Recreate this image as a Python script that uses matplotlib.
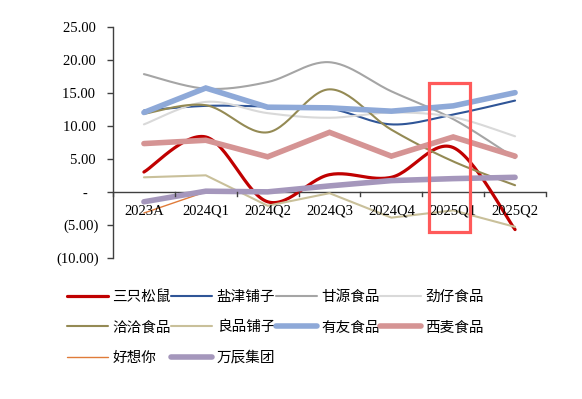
import numpy as np
import matplotlib
matplotlib.use('Agg')
import matplotlib.pyplot as plt
from matplotlib.patches import Rectangle
from matplotlib.ticker import FixedLocator, FixedFormatter

categories = ['2023A', '2024Q1', '2024Q2', '2024Q3', '2024Q4', '2025Q1', '2025Q2']
sanzhi = [3.0, 8.3, -1.5, 2.6, 2.2, 6.7, -5.7]
yanjin = [12.3, 13.0, 12.9, 12.6, 10.2, 11.7, 13.8]
ganyuan = [17.8, 15.6, 16.6, 19.6, 15.2, 11.0, 5.1]
jinzai = [10.2, 13.6, 11.9, 11.2, 12.0, 11.3, 8.4]
qiaqia = [11.8, 13.1, 9.0, 15.5, 9.4, 4.6, 1.0]
liangpin = [2.2, 2.5, -2.1, -0.2, -3.9, -2.8, -5.3]
youyou = [12.0, 15.7, 12.8, 12.7, 12.2, 13.0, 15.0]
ximai = [7.3, 7.8, 5.3, 9.0, 5.4, 8.3, 5.4]
haoxiang = [-3.2, 0.0, 0.0, 0.8, 1.6, 1.9, 2.1]
wanchen = [-1.5, 0.1, 0.0, 0.9, 1.7, 2.0, 2.2]

names = ['三只松鼠', '盐津铺子', '甘源食品', '劲仔食品', '洽洽食品',
         '良品铺子', '有友食品', '西麦食品', '好想你', '万辰集团']
series = [sanzhi, yanjin, ganyuan, jinzai, qiaqia, liangpin, youyou, ximai, haoxiang, wanchen]
colors = ['#C00000', '#2F5597', '#A5A5A5', '#D9D9D9', '#948A54',
          '#C9C09A', '#8EA9D8', '#D59494', '#E07B39', '#A597BC']
widths = [2.3, 1.5, 1.5, 1.5, 1.5, 1.5, 4.0, 4.0, 1.0, 4.0]
smooth = [True, True, True, True, True, False, False, False, False, False]

yticks = [25, 20, 15, 10, 5, 0, -5, -10]
ylabels = ['25.00 ', '20.00 ', '15.00 ', '10.00 ', '5.00 ', '-   ', '(5.00)', '(10.00)']

SERIF = ['Liberation Serif', 'Noto Sans CJK SC']
CJK = ['Noto Sans CJK SC', 'DejaVu Sans']


def smooth_curve(x, y, n=30):
    x = np.asarray(x, float)
    y = np.asarray(y, float)
    P = np.column_stack([x, y])
    Pe = np.vstack([P[0], P, P[-1]])
    out = []
    t = np.linspace(0, 1, n)[:, None]
    for i in range(len(P) - 1):
        p0, p1, p2, p3 = Pe[i], Pe[i + 1], Pe[i + 2], Pe[i + 3]
        b1 = p1 + (p2 - p0) / 6.0
        b2 = p2 - (p3 - p1) / 6.0
        seg = ((1 - t) ** 3) * p1 + 3 * ((1 - t) ** 2) * t * b1 + 3 * (1 - t) * t ** 2 * b2 + t ** 3 * p2
        out.append(seg if i == 0 else seg[1:])
    c = np.vstack(out)
    return c[:, 0], c[:, 1]


fig = plt.figure(figsize=(5.82, 3.99), dpi=100)
ax = fig.add_axes([113 / 582, 1 - 258 / 399, (546 - 113) / 582, (258 - 26.5) / 399])

x = np.arange(len(categories))
handles = []
for name, vals, c, lw, sm in zip(names, series, colors, widths, smooth):
    if sm:
        xs, ys = smooth_curve(x, vals)
    else:
        xs, ys = x, vals
    h, = ax.plot(xs, ys, color=c, lw=lw, label=name, solid_capstyle='round',
                 solid_joinstyle='miter' if lw > 3 else 'round')
    handles.append(h)

ax.set_xlim(-0.5, len(categories) - 0.5)
ax.set_ylim(-10, 25)

for s in ['top', 'right', 'bottom']:
    ax.spines[s].set_visible(False)
ax.spines['left'].set_color('#404040')
ax.spines['left'].set_linewidth(1.0)
ax.axhline(0, color='#404040', lw=1.0, zorder=0.5)

ax.yaxis.set_major_locator(FixedLocator(yticks))
ax.yaxis.set_major_formatter(FixedFormatter(ylabels))
ax.tick_params(axis='y', length=4, width=1.0, color='#404040', pad=6)
for lab in ax.get_yticklabels():
    lab.set_family(SERIF)
    lab.set_fontsize(10.5)

ax.set_xticks(x)
ax.set_xticklabels([])
ax.tick_params(axis='x', length=0)
for i, cat in enumerate(categories):
    ax.text(i, -2.9, cat, ha='center', va='center', fontsize=10.5, family=SERIF)
for b in np.arange(-0.5, len(categories), 1.0):
    ax.plot([b, b], [0, -0.6], color='#404040', lw=1.0, clip_on=False)

rect = Rectangle((4.61, -6.06), 0.66, 22.56, fill=False, edgecolor='#FF5A5A',
                 lw=2.3, clip_on=False, zorder=5)
ax.add_patch(rect)

# row-major legend order for ncol=4 (matplotlib fills by column)
order = [0, 4, 8, 1, 5, 9, 2, 6, 3, 7]
leg = fig.legend([handles[i] for i in order], [names[i] for i in order],
                 loc='upper left', bbox_to_anchor=(67 / 582, 1 - 290 / 399), ncol=4,
                 frameon=False, prop={'family': CJK, 'size': 10.5},
                 handlelength=2.8, handletextpad=0.3, columnspacing=0.05,
                 labelspacing=1.13, borderpad=0, borderaxespad=0)

fig.savefig('out.png', dpi=100)
